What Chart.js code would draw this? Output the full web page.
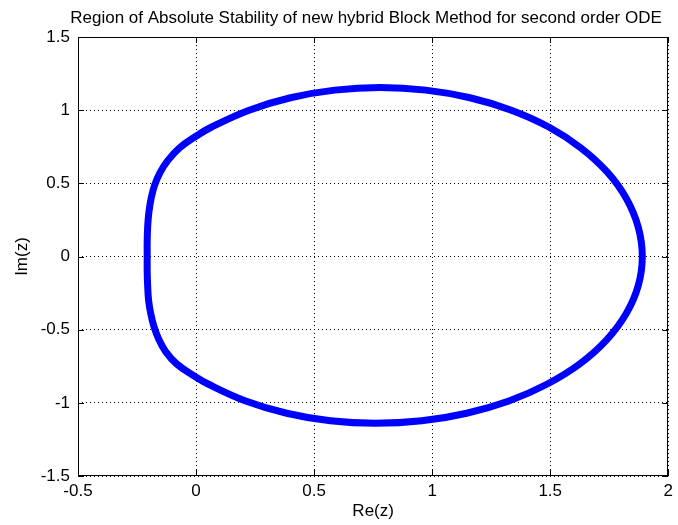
<!DOCTYPE html>
<html lang="en">
  <head>
    <meta charset="UTF-8" />
    <title>Region of Absolute Stability</title>
    <script src="https://cdn.jsdelivr.net/npm/chart.js"></script>
    <style>
      html, body {
        margin: 0;
        padding: 0;
        background: white;
      }
      #wrap {
        width: 678px;
        height: 525px;
      }
    </style>
  </head>
  <body>
    <div id="wrap">
      <canvas id="rasChart" width="678" height="525"></canvas>
    </div>

    <script>
      // boundary of the stability region (closed loop,
      // starts on the flat left edge, goes over the top, round the right, back under)
      const reZ = [
        -0.207, -0.207, -0.205, -0.2, -0.19, -0.175, -0.152, -0.12, -0.07,
        -0.005, 0.066, 0.225, 0.4, 0.587, 0.78, 0.973, 1.16, 1.335, 1.494,
        1.63, 1.741, 1.823, 1.873, 1.89,
        1.873, 1.822, 1.739, 1.626, 1.486, 1.325, 1.146, 0.956, 0.76, 0.569,
        0.384, 0.21, 0.053, -0.018, -0.083, -0.128, -0.158, -0.178, -0.192,
        -0.201, -0.205, -0.207, -0.207,
      ]
      const imZ = [
        0, 0.1, 0.2, 0.3, 0.4, 0.49, 0.575, 0.655, 0.742,
        0.817, 0.885, 1.0, 1.085, 1.137, 1.155, 1.137, 1.085, 1.0, 0.885,
        0.742, 0.578, 0.395, 0.2, 0,
        -0.198, -0.39, -0.57, -0.733, -0.873, -0.987, -1.071, -1.123, -1.14,
        -1.123, -1.071, -0.987, -0.873, -0.806, -0.733, -0.652, -0.565,
        -0.48, -0.39, -0.3, -0.2, -0.1, 0,
      ]
      const xTicks = [-0.5, 0, 0.5, 1, 1.5, 2]
      const yTicks = [-1.5, -1, -0.5, 0, 0.5, 1, 1.5]

      const titleText =
        'Region of Absolute Stability of new hybrid Block Method for second order ODE'
      const fontFamily = "'Liberation Sans', Arial, sans-serif"

      const points = reZ.map((x, i) => ({ x: x, y: imZ[i] }))

      // MATLAB style box, inward ticks and title
      const boxPlugin = {
        id: 'box',
        afterDraw(chart) {
          const c = chart.ctx
          const a = chart.chartArea
          const xs = chart.scales.x
          const ys = chart.scales.y
          c.save()
          c.strokeStyle = '#000'
          c.lineWidth = 1
          c.strokeRect(
            Math.round(a.left) + 0.5,
            Math.round(a.top) + 0.5,
            Math.round(a.right - a.left) - 1,
            Math.round(a.bottom - a.top) - 1
          )
          c.beginPath()
          xTicks.forEach((v) => {
            const px = Math.round(xs.getPixelForValue(v)) + 0.5
            c.moveTo(px, a.bottom)
            c.lineTo(px, a.bottom - 6)
            c.moveTo(px, a.top)
            c.lineTo(px, a.top + 6)
          })
          yTicks.forEach((v) => {
            const py = Math.round(ys.getPixelForValue(v)) + 0.5
            c.moveTo(a.left, py)
            c.lineTo(a.left + 6, py)
            c.moveTo(a.right, py)
            c.lineTo(a.right - 6, py)
          })
          c.stroke()
          c.fillStyle = '#000'
          c.font = '17px ' + fontFamily
          c.textAlign = 'center'
          c.textBaseline = 'middle'
          c.fillText(titleText, 366, 18)
          c.restore()
        },
      }

      const ctx = document.getElementById('rasChart').getContext('2d')
      const rasChart = new Chart(ctx, {
        type: 'scatter',
        data: {
          datasets: [
            {
              data: points,
              showLine: true,
              borderColor: '#0000ff',
              backgroundColor: '#0000ff',
              borderWidth: 7,
              pointRadius: 0,
              tension: 0.4,
              borderCapStyle: 'round',
              borderJoinStyle: 'round',
            },
          ],
        },
        options: {
          responsive: false,
          animation: false,
          layout: { padding: { top: 37, right: 5, left: 0, bottom: 0 } },
          plugins: {
            legend: { display: false },
            title: { display: false },
            tooltip: { enabled: false },
          },
          scales: {
            x: {
              type: 'linear',
              min: -0.5,
              max: 2,
              afterFit: (scale) => {
                scale.height = 49
              },
              afterBuildTicks: (scale) => {
                scale.ticks = xTicks.map((v) => ({ value: v }))
              },
              ticks: {
                color: '#000',
                padding: 5,
                maxRotation: 0,
                autoSkip: false,
                font: { family: fontFamily, size: 17 },
                callback: (v) => String(v),
              },
              grid: {
                color: '#000',
                lineWidth: 1,
                drawTicks: false,
              },
              border: { display: false, dash: [1, 3] },
              title: {
                display: true,
                text: 'Re(z)',
                color: '#000',
                font: { family: fontFamily, size: 17 },
                padding: { top: 0, bottom: 3 },
              },
            },
            y: {
              type: 'linear',
              min: -1.5,
              max: 1.5,
              afterFit: (scale) => {
                scale.width = 78
              },
              afterBuildTicks: (scale) => {
                scale.ticks = yTicks.map((v) => ({ value: v }))
              },
              ticks: {
                color: '#000',
                padding: 8,
                autoSkip: false,
                font: { family: fontFamily, size: 17 },
                callback: (v) => String(v),
              },
              grid: {
                color: '#000',
                lineWidth: 1,
                drawTicks: false,
              },
              border: { display: false, dash: [1, 3] },
              title: {
                display: true,
                text: 'Im(z)',
                color: '#000',
                font: { family: fontFamily, size: 17 },
                padding: { top: 12, bottom: 0 },
              },
            },
          },
        },
        plugins: [boxPlugin],
      })
    </script>
  </body>
</html>
